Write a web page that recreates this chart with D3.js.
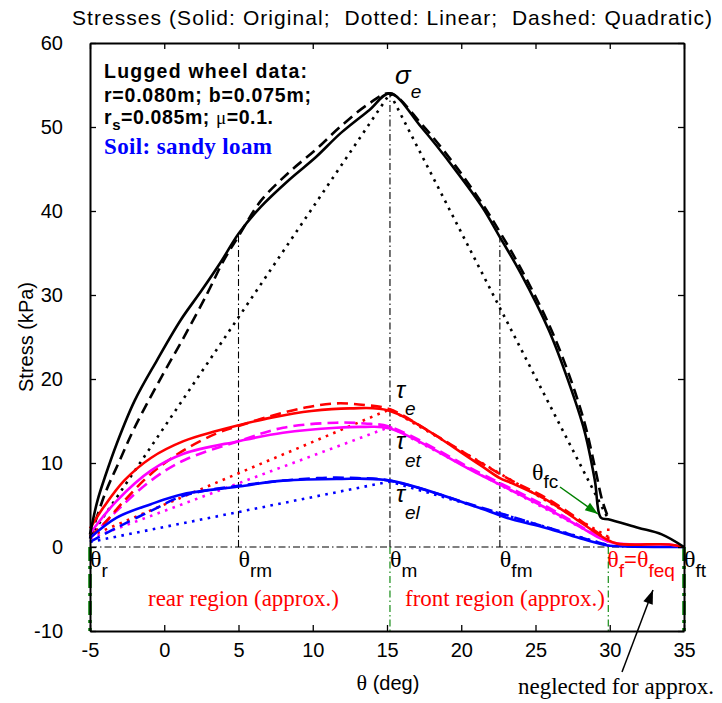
<!DOCTYPE html>
<html>
<head>
<meta charset="utf-8">
<script src="https://cdn.jsdelivr.net/npm/d3@7"></script>
<style>
body { margin: 0; background: #fff; }
</style>
</head>
<body>
<script>
// DATA - points are [theta (deg), stress (kPa)]

let sigmaOriginal = [[-5, 1.5], [-4.5, 5.5], [-4, 8.3], [-3.2, 12.3], [-2, 17.4], [-0.5, 22.2], [1.1, 27.0], [2.5, 30.5], [3.8, 33.9], [5, 37.3], [6.5, 40.5], [8.4, 43.7], [10.2, 46.4], [11.9, 49.3], [13.8, 52.0], [15.2, 54.0], [17.3, 50.0], [19.6, 44.9], [21.4, 40.5], [22.6, 36.9], [24, 32.6], [25.9, 25.8], [27.2, 19.8], [28.3, 13.8], [29, 7.9], [29.4, 3.5], [29.9, 3.3], [31.9, 2.3], [33.5, 1.5], [35, 0]];
let sigmaQuadratic = [[-5, 1.0], [-4, 6.3], [-3, 10.3], [-2, 14.2], [-0.2, 20.2], [1.3, 24.9], [2.9, 30.2], [4, 34.1], [5, 37.0], [6.5, 41.2], [8.4, 44.6], [10.2, 47.3], [11.9, 50.1], [13.8, 52.8], [15.2, 54.0], [17.3, 50.4], [19.6, 45.4], [21.4, 40.9], [22.6, 37.5], [24, 33.2], [25.9, 26.5], [27.2, 20.8], [28.3, 14.8], [29, 9.5], [29.5, 5.5], [29.9, 3.5]];
let sigmaLinear = [[-5, 1.2], [15.2, 54.0], [29.9, 3.3]];

let tauOriginal = [[-5, 2.2], [-4.1, 4.7], [-2.7, 7.9], [-0.9, 10.6], [1.3, 12.6], [3.5, 13.8], [5, 14.5], [7.2, 15.4], [9.9, 16.2], [12.5, 16.5], [15.2, 16.2], [21.15, 9.9], [22.6, 8.2], [23.4, 7.6], [25.65, 5.7], [27.9, 3.1], [29.7, 1.0], [30.5, 0.4], [34, 0.3], [35, 0]];
let tauQuadratic = [[-5, 1.3], [-4.1, 2.7], [-2.7, 5.5], [-0.9, 8.7], [1.3, 11.5], [3.5, 13.5], [5, 14.4], [7.2, 15.6], [9.5, 16.6], [11.6, 17.1], [13.5, 16.9], [15.2, 16.4], [18, 13.6], [21.15, 10.2], [23.4, 7.9], [25.65, 5.9], [27.9, 3.3], [29.9, 0.8]];
let tauLinear = [[-5, 1.3], [15.2, 16.4], [29.9, 1.2]];

let tauTOriginal = [[-5, 1.6], [-3.2, 5.5], [-0.9, 9.1], [1.3, 11.1], [5, 12.6], [8, 13.6], [11.6, 14.2], [13.5, 14.3], [15.2, 14.1], [21.15, 8.7], [25.65, 4.7], [28.5, 1.9], [29.4, 1.0], [30.5, 0.4], [34, 0.3], [35, 0]];
let tauTQuadratic = [[-5, 1.0], [-3.2, 4.3], [-0.9, 7.9], [1.3, 10.3], [5, 12.6], [8, 14.2], [11.6, 14.8], [13.5, 14.7], [15.2, 14.3], [21.15, 8.9], [25.65, 4.9], [28.5, 2.0], [29.9, 0.6]];
let tauTLinear = [[-5, 1.0], [15.2, 14.3], [29.9, 0.6]];

let tauLOriginal = [[-5, 1.1], [-3.2, 3.5], [-0.9, 5.1], [1.3, 6.3], [5, 7.2], [8, 7.9], [11.6, 8.1], [15.2, 7.9], [21.15, 4.7], [23.4, 3.3], [25.65, 2.3], [27.9, 1.1], [29.4, 0.35], [30, 0.15], [35, 0]];
let tauLQuadratic = [[-5, 0.6], [-3.2, 2.3], [-0.9, 4.3], [1.3, 6.1], [5, 7.3], [10.3, 8.2], [13, 8.2], [15.2, 7.9], [21.15, 4.8], [25.65, 2.4], [27.9, 1.2], [29.9, 0.2]];
let tauLLinear = [[-5, 0.6], [15.2, 7.8], [29.9, 0.2]];

// key angles and the stress they reach
let thetaR = -5, thetaRM = 5, thetaM = 15.2, thetaFM = 22.6, thetaF = 29.9, thetaFT = 35;
let sigmaAtRM = 37.3, sigmaAtM = 54.0, sigmaAtFM = 36.9, tauAtF = 2.5;

let xTicks = [-5, 0, 5, 10, 15, 20, 25, 30, 35];
let yTicks = [-10, 0, 10, 20, 30, 40, 50, 60];

// LAYOUT

let width = 722;
let height = 703;

let svg = d3.select('body').append('svg')
    .attr('width', width)
    .attr('height', height)
    .style('background', '#fff');

let x_scale = d3.scaleLinear().domain([-5, 35]).range([90, 684]);
let y_scale = d3.scaleLinear().domain([-10, 60]).range([631, 43]);

let sans = "'Liberation Sans', Arial, sans-serif";
let serif = "'Liberation Serif', 'Times New Roman', serif";

let line = d3.line()
    .x(d => x_scale(d[0]))
    .y(d => y_scale(d[1]));

// smooth version for the measured / quadratic curves
let smoothLine = d3.line()
    .x(d => x_scale(d[0]))
    .y(d => y_scale(d[1]))
    .curve(d3.curveCatmullRom.alpha(0.5));

let dashed = "11,6";
let dotted = "2.6,5.4";

// reference lines (dash-dot)
let refLines = [
    { pts: [[thetaR, 0], [thetaFT, 0]], color: "#000", w: 1.1, dash: "7,3,1.5,3" },
    { pts: [[thetaRM, 0], [thetaRM, sigmaAtRM]], color: "#000", w: 1.1, dash: "7,3,1.5,3" },
    { pts: [[thetaM, 0], [thetaM, sigmaAtM]], color: "#000", w: 1.1, dash: "7,3,1.5,3" },
    { pts: [[thetaFM, 0], [thetaFM, sigmaAtFM]], color: "#000", w: 1.1, dash: "7,3,1.5,3" },
    { pts: [[thetaM, 0], [thetaM, -10]], color: "#008000", w: 1.1, dash: "7,3,1.5,3" },
    { pts: [[thetaF, 0], [thetaF, -10]], color: "#008000", w: 1.1, dash: "7,3,1.5,3" },
    { pts: [[thetaR, 0], [thetaR, -10]], color: "#008000", w: 3.5, dash: "14,5,3,5" },
    { pts: [[thetaFT, 0], [thetaFT, -10]], color: "#008000", w: 3.5, dash: "14,5,3,5" },
    { pts: [[thetaF, 0], [thetaF, tauAtF]], color: "#ff0000", w: 2.6, dash: dotted }
];

svg.append("g").selectAll("path")
    .data(refLines)
    .join("path")
    .attr("d", d => line(d.pts))
    .attr("fill", "none")
    .attr("stroke", d => d.color)
    .attr("stroke-width", d => d.w)
    .attr("stroke-dasharray", d => d.dash);

// stress curves
let series = [
    { data: tauLLinear, color: "#0000ff", dash: dotted },
    { data: tauTLinear, color: "#ff00ff", dash: dotted },
    { data: tauLinear, color: "#ff0000", dash: dotted },
    { data: sigmaLinear, color: "#000", dash: dotted },
    { data: tauLQuadratic, color: "#0000ff", dash: dashed },
    { data: tauTQuadratic, color: "#ff00ff", dash: dashed },
    { data: tauQuadratic, color: "#ff0000", dash: dashed },
    { data: sigmaQuadratic, color: "#000", dash: dashed },
    { data: tauLOriginal, color: "#0000ff", dash: null },
    { data: tauTOriginal, color: "#ff00ff", dash: null },
    { data: tauOriginal, color: "#ff0000", dash: null },
    { data: sigmaOriginal, color: "#000", dash: null }
];

svg.append("g").selectAll("path")
    .data(series)
    .join("path")
    .attr("d", d => d.dash === dotted ? line(d.data) : smoothLine(d.data))
    .attr("fill", "none")
    .attr("stroke", d => d.color)
    .attr("stroke-width", 2.6)
    .attr("stroke-linejoin", "round")
    .attr("stroke-dasharray", d => d.dash);

// AXES (box with inward ticks)

let x_axis = d3.axisBottom(x_scale).tickValues(xTicks).tickFormat(d => String(d))
    .tickSizeInner(-6).tickSizeOuter(0).tickPadding(12);
svg.append("g")
    .attr("class", "x axis")
    .attr("transform", "translate(0," + y_scale(-10) + ")")
    .call(x_axis);

let y_axis = d3.axisLeft(y_scale).tickValues(yTicks).tickFormat(d => String(d))
    .tickSizeInner(-6).tickSizeOuter(0).tickPadding(27);
svg.append("g")
    .attr("class", "y axis")
    .attr("transform", "translate(" + x_scale(-5) + ",0)")
    .call(y_axis);

svg.append("g")
    .attr("transform", "translate(0," + y_scale(60) + ")")
    .call(d3.axisTop(x_scale).tickValues(xTicks).tickSizeInner(-6).tickSizeOuter(0).tickFormat(""));
svg.append("g")
    .attr("transform", "translate(" + x_scale(35) + ",0)")
    .call(d3.axisRight(y_scale).tickValues(yTicks).tickSizeInner(-6).tickSizeOuter(0).tickFormat(""));

svg.selectAll(".domain").attr("stroke", "#000").attr("stroke-width", 2);
svg.selectAll(".tick line").attr("stroke", "#000").attr("stroke-width", 1.3);
svg.selectAll(".tick text")
    .attr("fill", "#000")
    .style("font-family", sans)
    .style("font-size", "20px");

// TEXT

function richText(x, y, parts, color, anchor, len) {
    let t = svg.append("text")
        .attr("x", x)
        .attr("y", y)
        .attr("fill", color || "#000")
        .attr("text-anchor", anchor || "start")
        .style("white-space", "pre");
    if (len) t.attr("textLength", len).attr("lengthAdjust", "spacing");
    parts.forEach(p => {
        t.append("tspan")
            .attr("dy", p.dy || 0)
            .style("font-family", p.family || sans)
            .style("font-size", p.size + "px")
            .style("font-style", p.italic ? "italic" : "normal")
            .style("font-weight", p.bold ? "bold" : "normal")
            .text(p.text);
    });
    return t;
}

richText(392, 25, [{ text: "Stresses (Solid: Original;  Dotted: Linear;  Dashed: Quadratic)", size: 21 }],
    "#000", "middle", 640);

svg.append("text")
    .attr("transform", "translate(33," + ((y_scale(60) + y_scale(-10)) / 2) + ") rotate(-90)")
    .attr("text-anchor", "middle")
    .style("font-family", sans)
    .style("font-size", "20px")
    .text("Stress (kPa)");

richText(388, 690, [
    { text: "θ", family: serif, size: 22 },
    { text: " (deg)", size: 20 }
], "#000", "middle");

// annotation block
richText(104, 78, [{ text: "Lugged wheel data:", size: 19.5, bold: true }], "#000", "start", 203);
richText(104, 102, [{ text: "r=0.080m; b=0.075m;", size: 19.5, bold: true }], "#000", "start", 207);
richText(104, 124, [
    { text: "r", size: 19.5, bold: true },
    { text: "s", size: 15, bold: true, dy: 6 },
    { text: "=0.085m; ", size: 19.5, bold: true, dy: -6 },
    { text: "μ", family: serif, size: 19 },
    { text: "=0.1.", size: 19.5, bold: true }
], "#000", "start", 169);
richText(104, 154, [{ text: "Soil: sandy loam", family: serif, size: 23, bold: true }], "#0000ff", "start", 168);

// curve labels
richText(x_scale(thetaM) + 5, y_scale(sigmaAtM) - 9, [
    { text: "σ", size: 26, italic: true },
    { text: "e", size: 19, italic: true, dy: 14 }
]);
richText(x_scale(thetaM) + 6, 398, [
    { text: "τ", size: 24, italic: true },
    { text: "e", size: 19, italic: true, dy: 17 }
]);
richText(x_scale(thetaM) + 6, 449, [
    { text: "τ", size: 24, italic: true },
    { text: "et", size: 19, italic: true, dy: 18 }
]);
richText(x_scale(thetaM) + 6, 502, [
    { text: "τ", size: 24, italic: true },
    { text: "el", size: 19, italic: true, dy: 17 }
]);

// angle labels under the zero line
let angleLabels = [
    { th: thetaR, sub: "r" },
    { th: thetaRM, sub: "rm" },
    { th: thetaM, sub: "m" },
    { th: thetaFM, sub: "fm" },
    { th: thetaFT, sub: "ft" }
];
angleLabels.forEach(a => {
    richText(x_scale(a.th), 567, [
        { text: "θ", family: serif, size: 24 },
        { text: a.sub, size: 19, dy: 10 }
    ]);
});
richText(x_scale(thetaF) - 1, 567, [
    { text: "θ", family: serif, size: 24 },
    { text: "f", size: 19, dy: 10 },
    { text: "=", size: 22, dy: -10 },
    { text: "θ", family: serif, size: 24 },
    { text: "feq", size: 19, dy: 10 }
], "#ff0000");

richText(532, 480, [
    { text: "θ", family: serif, size: 24 },
    { text: "fc", size: 19, dy: 8 }
]);

richText(148, 606, [{ text: "rear region (approx.)", family: serif, size: 23 }], "#ff0000");
richText(405, 606, [{ text: "front region (approx.)", family: serif, size: 23 }], "#ff0000");
richText(518, 694, [{ text: "neglected for approx.", family: serif, size: 23 }]);

// arrows
function arrow(x1, y1, x2, y2, color, headLen, headW) {
    svg.append("line")
        .attr("x1", x1).attr("y1", y1)
        .attr("x2", x2).attr("y2", y2)
        .attr("stroke", color).attr("stroke-width", 1.5);
    let ang = Math.atan2(y2 - y1, x2 - x1);
    let bx = x2 - headLen * Math.cos(ang), by = y2 - headLen * Math.sin(ang);
    let px = -Math.sin(ang) * headW / 2, py = Math.cos(ang) * headW / 2;
    svg.append("path")
        .attr("d", "M" + x2 + "," + y2 + "L" + (bx + px) + "," + (by + py) + "L" + (bx - px) + "," + (by - py) + "Z")
        .attr("fill", color);
}
arrow(560, 487, 598, 514, "#008000", 13, 9);
arrow(622, 672, 653, 590, "#000", 14, 10);
</script>
</body>
</html>
